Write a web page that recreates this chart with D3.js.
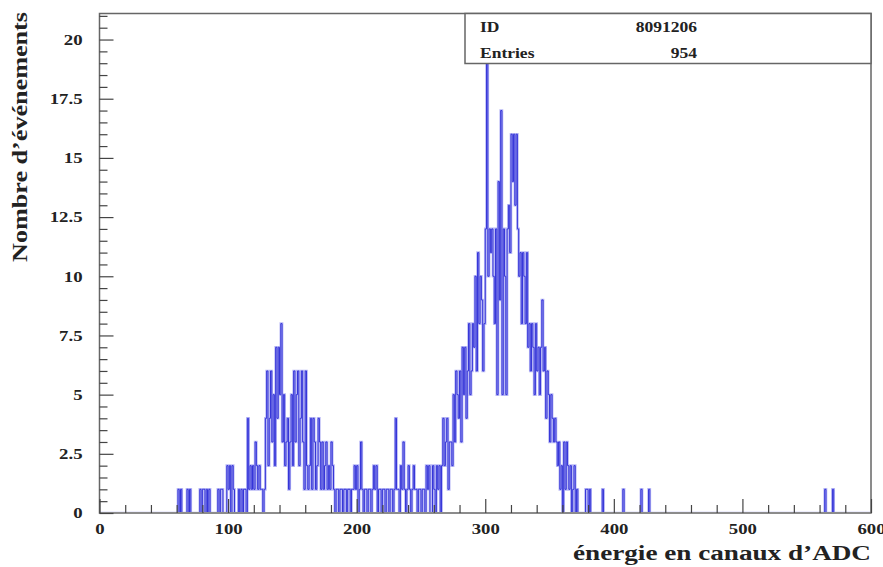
<!DOCTYPE html>
<html>
<head>
<meta charset="utf-8">
<script src="https://cdn.jsdelivr.net/npm/d3@7"></script>
<style>
  html, body { margin: 0; padding: 0; background: #fff; }
  svg { display: block; }
  text { font-family: "Liberation Serif", "DejaVu Serif", serif; font-weight: bold; fill: #222; }
</style>
</head>
<body>
<svg id="chart" width="883" height="567"></svg>
<script>
// ---- Data (one bin per ADC channel, channels 0..599) ----
const counts = [
  0,0,0,0,0,0,0,0,0,0,0,0,0,0,0,0,0,0,0,0,        // 0-19
  0,0,0,0,0,0,0,0,0,0,0,0,0,0,0,0,0,0,0,0,        // 20-39
  0,0,0,0,0,0,0,0,0,0,0,0,0,0,0,0,0,0,0,0,        // 40-59
  0,1,0,1,0,0,0,0,1,0,1,0,0,0,0,0,0,0,1,0,        // 60-79
  1,1,0,1,0,1,0,0,0,0,0,0,1,0,1,1,0,0,0,2,        // 80-99
  1,2,0,2,1,0,0,0,1,0,1,0,1,1,0,4,1,2,1,2,        // 100-119
  1,3,2,1,2,1,1,0,1,4,6,2,4,6,3,5,2,7,4,7,        // 120-139
  5,8,3,5,2,3,4,1,3,5,2,6,3,5,6,2,4,6,3,1,        // 140-159
  6,2,1,2,4,1,4,3,1,2,4,3,1,3,1,2,3,1,2,1,        // 160-179
  3,2,1,0,1,1,0,1,1,0,1,1,0,1,1,0,1,1,2,1,        // 180-199
  2,0,1,3,1,0,1,1,0,1,1,0,1,2,1,2,0,1,1,0,        // 200-219
  1,1,0,1,1,0,1,1,0,1,4,1,1,0,2,1,3,1,0,1,        // 220-239
  2,1,0,1,2,1,1,0,1,1,0,1,1,0,2,1,2,0,0,2,        // 240-259
  1,0,2,1,2,0,2,4,2,3,4,1,3,3,2,5,3,6,5,4,        // 260-279
  6,3,7,5,7,4,6,8,5,6,8,7,10,6,11,8,10,9,6,8,     // 280-299
  12,19,10,12,11,12,10,8,12,5,14,9,17,5,12,10,5,12,13,11, // 300-319
  16,14,16,13,16,12,10,11,8,11,10,8,11,7,8,6,8,7,5,8,     // 320-339
  6,7,5,7,9,6,7,4,6,5,3,5,4,3,4,3,2,3,1,2,        // 340-359
  0,3,1,3,2,1,2,0,1,2,0,1,0,0,0,0,0,0,1,1,        // 360-379
  0,1,0,0,0,0,0,0,0,0,0,1,0,0,0,0,0,0,0,0,        // 380-399
  0,0,0,0,0,0,0,1,0,0,0,0,0,0,0,0,0,0,0,0,        // 400-419
  0,1,0,0,0,0,0,1,0,0,0,0,0,0,0,0,0,0,0,0,        // 420-439
  0,0,0,0,0,0,0,0,0,0,0,0,0,0,0,0,0,0,0,0,        // 440-459
  0,0,0,0,0,0,0,0,0,0,0,0,0,0,0,0,0,0,0,0,        // 460-479
  0,0,0,0,0,0,0,0,0,0,0,0,0,0,0,0,0,0,0,0,        // 480-499
  0,0,0,0,0,0,0,0,0,0,0,0,0,0,0,0,0,0,0,0,        // 500-519
  0,0,0,0,0,0,0,0,0,0,0,0,0,0,0,0,0,0,0,0,        // 520-539
  0,0,0,0,0,0,0,0,0,0,0,0,0,0,0,0,0,0,0,0,        // 540-559
  0,0,0,0,1,0,0,0,0,0,1,0,0,0,0,0,0,0,0,0,        // 560-579
  0,0,0,0,0,0,0,0,0,0,0,0,0,0,0,0,0,0,0,0         // 580-599
];
const xDomain = [0, 600];
const yDomain = [0, 21.1];
const xMajorTicks = [0, 100, 200, 300, 400, 500, 600];
const yMajorTicks = [0, 2.5, 5, 7.5, 10, 12.5, 15, 17.5, 20];
const statsLabels = ["ID", "Entries"];
const statsValues = ["8091206", "954"];
const xTitle = "énergie en canaux d’ADC";
const yTitle = "Nombre d’événements";

// ---- Layout ----
const svg = d3.select("#chart");
const L = 99.5, R = 871, T = 13.5, B = 513;
const x = d3.scaleLinear().domain(xDomain).range([L, R]);
const y = d3.scaleLinear().domain(yDomain).range([B, T]);
const STRETCH = 1.25;

svg.append("defs").append("clipPath").attr("id", "plotclip")
  .append("rect").attr("x", L).attr("y", T).attr("width", R - L).attr("height", B - T - 1);

// histogram (outline)
const pts = counts.map((c, i) => [i, c]);
pts.push([counts.length, counts[counts.length - 1]]);
const line = d3.line().x(d => x(d[0])).y(d => y(d[1])).curve(d3.curveStepAfter);
const hg = svg.append("g").attr("clip-path", "url(#plotclip)");
hg.append("path").attr("d", line(pts)).attr("fill", "none")
  .attr("stroke", "#acacf3").attr("stroke-width", 2.6).attr("opacity", 0.85);
hg.append("path").attr("d", line(pts)).attr("fill", "none")
  .attr("stroke", "#3434d8").attr("stroke-width", 1);

// frame
svg.append("rect").attr("x", L).attr("y", T).attr("width", R - L).attr("height", B - T)
  .attr("fill", "none").attr("stroke", "#666").attr("stroke-width", 1.5);

// axes
const yMinor = d3.range(0, 21.01, 0.5).filter(v => !yMajorTicks.includes(v));
const xMinor = d3.range(0, 601, 20).filter(v => !xMajorTicks.includes(v));

function styleAxis(g) {
  g.select(".domain").remove();
  g.selectAll("line").attr("stroke", "#444").attr("stroke-width", 1.2);
  g.selectAll("text").attr("font-family", "Liberation Serif, serif").attr("font-weight", "bold")
    .attr("font-size", 15).attr("fill", "#222");
}
svg.append("g").attr("transform", `translate(${L},0)`)
  .call(d3.axisLeft(y).tickValues(yMinor).tickSize(-8).tickFormat("")).call(styleAxis);
svg.append("g").attr("class", "stretch").attr("transform", `translate(${L},0)`)
  .call(d3.axisLeft(y).tickValues(yMajorTicks).tickSize(-14).tickPadding(17).tickFormat(d => String(d)))
  .call(styleAxis);
svg.append("g").attr("transform", `translate(0,${B})`)
  .call(d3.axisBottom(x).tickValues(xMinor).tickSize(-8).tickFormat("")).call(styleAxis);
svg.append("g").attr("class", "stretch").attr("transform", `translate(0,${B})`)
  .call(d3.axisBottom(x).tickValues(xMajorTicks).tickSize(-14).tickPadding(10).tickFormat(d => String(d)))
  .call(styleAxis);

// titles
svg.append("text").attr("x", R).attr("y", 560).attr("text-anchor", "end")
  .attr("font-size", 20).attr("textLength", 298).attr("lengthAdjust", "spacingAndGlyphs").text(xTitle);
svg.append("text").attr("transform", "translate(27,137) rotate(-90)").attr("text-anchor", "middle")
  .attr("font-size", 20).attr("textLength", 250).attr("lengthAdjust", "spacingAndGlyphs").text(yTitle);

// stats box
const box = svg.append("g").attr("class", "stretch");
box.append("rect").attr("x", 465).attr("y", T).attr("width", R - 465).attr("height", 50)
  .attr("fill", "#fff").attr("stroke", "#666").attr("stroke-width", 1.5);
statsLabels.forEach((lab, i) => {
  box.append("text").attr("x", 480).attr("y", 32 + i * 26).attr("font-size", 14).text(lab);
  box.append("text").attr("x", 697).attr("y", 32 + i * 26).attr("text-anchor", "end")
    .attr("font-size", 14).text(statsValues[i]);
});

// horizontal stretch of small labels (mimics the reference's wide glyphs)
svg.selectAll(".stretch text").each(function () {
  const w = this.getComputedTextLength();
  d3.select(this).attr("textLength", w * STRETCH).attr("lengthAdjust", "spacingAndGlyphs");
});
</script>
</body>
</html>
